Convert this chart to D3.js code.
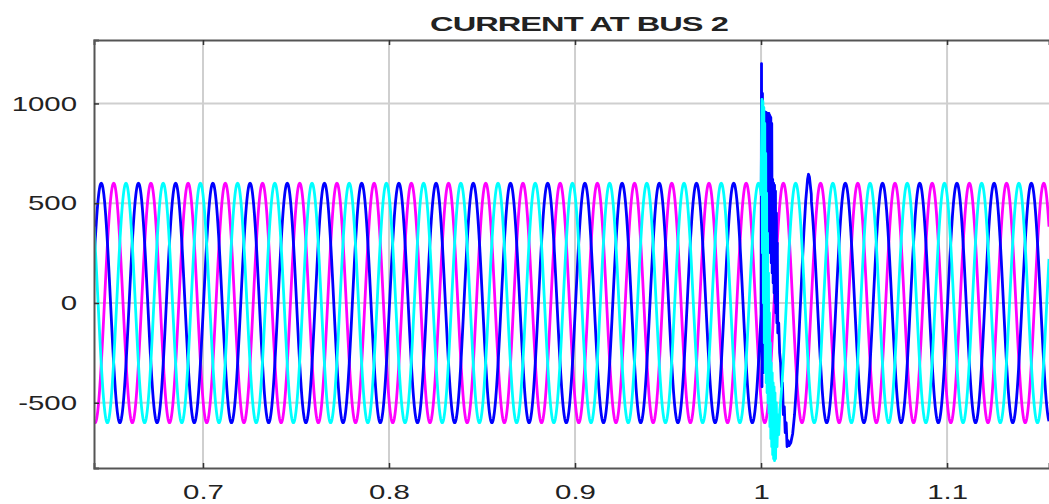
<html>
<head>
<meta charset="utf-8">
<title>Current at bus 2</title>
<style>
  body { margin: 0; background: #fff; }
  text { font-family: "Liberation Sans", Arial, sans-serif; fill: #222; }
</style>
</head>
<body>
<div id="chart"></div>
<script src="https://cdn.jsdelivr.net/npm/d3@7"></script>
<script>
// axis ticks
var xTicks = [0.7, 0.8, 0.9, 1.0, 1.1];
var yTicks = [-500, 0, 500, 1000];

// steady state of each phase
var phaseNames = ["A", "C", "B"];
var phaseColors = ["#ff00ff", "#0000ff", "#00ffff"];
var amplitude = [600, 600, 600];     // peak current
var freqHz = 50;
var firstPeak = [0.0120, 0.0053, 0.0186]; // time of a positive peak (mod one period)

// fault transient, [time, current]
var faultA = [];
var faultB = [
  [1.0000, 545], [1.0005, 1020], [1.00075, 250], [1.0010, 1010], [1.00125, 0],
  [1.0015, 980], [1.00175, -200], [1.0020, 900], [1.00225, -350], [1.0025, 750],
  [1.00275, -400], [1.0030, 550], [1.00325, -450], [1.0035, 350], [1.00375, -500],
  [1.0040, 150], [1.00425, -550], [1.0045, -50], [1.00475, -620], [1.0050, -200],
  [1.00525, -680], [1.0055, -300], [1.00575, -720], [1.0060, -350], [1.00625, -760],
  [1.0065, -400], [1.00675, -780], [1.0070, -420], [1.00725, -790], [1.0075, -450],
  [1.0078, -780], [1.0082, -500], [1.0086, -720], [1.0090, -560], [1.0095, -660],
  [1.0100, -560]
];
var faultC = [
  [1.0000, -80], [1.00025, 1200], [1.0005, -420], [1.00075, 1050], [1.0010, -350],
  [1.00125, 960], [1.0015, -250], [1.00175, 960], [1.0020, -100], [1.00225, 955],
  [1.0025, 50], [1.00275, 955], [1.0030, 150], [1.00325, 950], [1.0035, 250],
  [1.00375, 950], [1.0040, 300], [1.00425, 950], [1.0045, 280], [1.00475, 940],
  [1.0050, 250], [1.00525, 930], [1.0055, 200], [1.00575, 900], [1.0060, 150],
  [1.00625, 620], [1.0065, 100], [1.00675, 600], [1.0070, 50], [1.00725, 590],
  [1.0075, 0], [1.00775, 560], [1.0080, -50], [1.00825, 450], [1.0085, -100],
  [1.00875, 300], [1.0090, -150], [1.0095, -100], [1.0100, -250], [1.0105, -300],
  [1.0110, -420], [1.0115, -400], [1.0120, -560], [1.0125, -520], [1.0130, -650],
  [1.0135, -600], [1.0140, -720], [1.0145, -690], [1.0150, -715], [1.0160, -700],
  [1.0170, -655], [1.0180, -560], [1.0190, -420], [1.0200, -240], [1.0210, -40],
  [1.0220, 160], [1.0230, 350], [1.0240, 510], [1.0250, 620], [1.0255, 645],
  [1.0260, 632], [1.0270, 545]
];
var faults = [faultA, faultC, faultB];

var width = 1049, height = 504;
var plotLeft = 94, plotRight = 1049, plotTop = 40, plotBottom = 468;
var textStretch = 1.4;

var svg = d3.select("#chart").append("svg")
  .attr("width", width).attr("height", height);

var x = d3.scaleLinear().domain([0.6414, 1.1548]).range([plotLeft, plotRight]);
var y = d3.scaleLinear().domain([-827, 1318]).range([plotBottom, plotTop]);

svg.append("clipPath").attr("id", "plotclip")
  .append("rect")
  .attr("x", plotLeft).attr("y", plotTop)
  .attr("width", plotRight - plotLeft).attr("height", plotBottom - plotTop);

// grid
var grid = svg.append("g");
grid.selectAll(".vg").data(xTicks).enter().append("line")
  .attr("x1", d => x(d)).attr("x2", d => x(d))
  .attr("y1", plotTop).attr("y2", plotBottom)
  .attr("stroke", "#cfcfcf").attr("stroke-width", 2);
grid.selectAll(".hg").data(yTicks).enter().append("line")
  .attr("x1", plotLeft).attr("x2", plotRight)
  .attr("y1", d => y(d)).attr("y2", d => y(d))
  .attr("stroke", "#cfcfcf").attr("stroke-width", 2);

// build each phase: steady sine outside the fault window, picture points inside it
var t0 = x.domain()[0], t1 = x.domain()[1], dt = 0.0001;
function phaseSeries(i) {
  var f = faults[i];
  var fStart = f.length ? f[0][0] : Infinity;
  var fEnd = f.length ? f[f.length - 1][0] : -Infinity;
  var pts = [];
  for (var t = t0; t <= t1; t += dt) {
    if (t >= fStart && t <= fEnd) continue;
    if (t > fEnd && pts.length && pts[pts.length - 1][0] < fStart) {
      f.forEach(p => pts.push(p));
    }
    pts.push([t, amplitude[i] * Math.cos(2 * Math.PI * freqHz * (t - firstPeak[i]))]);
  }
  return pts;
}

var line = d3.line().x(d => x(d[0])).y(d => y(d[1]));
var plot = svg.append("g").attr("clip-path", "url(#plotclip)");
phaseNames.forEach(function (name, i) {
  plot.append("path")
    .datum(phaseSeries(i))
    .attr("fill", "none")
    .attr("stroke", phaseColors[i])
    .attr("stroke-width", 2.8)
    .attr("stroke-linejoin", "round")
    .attr("d", line);
});

// axes
var plainNum = d => String(+d.toFixed(2));
var xAxis = svg.append("g")
  .attr("transform", "translate(0," + plotBottom + ")")
  .call(d3.axisBottom(x).tickValues(xTicks).tickSize(-5).tickPadding(16)
    .tickFormat(plainNum));
var xTop = svg.append("g")
  .attr("transform", "translate(0," + plotTop + ")")
  .call(d3.axisTop(x).tickValues(xTicks).tickSize(-5).tickFormat(""));
var yAxis = svg.append("g")
  .attr("transform", "translate(" + plotLeft + ",0)")
  .call(d3.axisLeft(y).tickValues(yTicks).tickSize(-5).tickPadding(17)
    .tickFormat(plainNum));

[xAxis, xTop, yAxis].forEach(function (g) {
  g.select(".domain").attr("stroke", "#555").attr("stroke-width", 2);
  g.selectAll(".tick line").attr("stroke", "#333").attr("stroke-width", 1.5);
  g.selectAll(".tick text")
    .attr("font-size", 21)
    .attr("font-family", "Liberation Sans, Arial, sans-serif")
    .attr("fill", "#222");
});
xAxis.selectAll(".tick text").attr("transform", "scale(" + textStretch + ",1)");
yAxis.selectAll(".tick text")
  .attr("x", -17 / textStretch)
  .attr("transform", "scale(" + textStretch + ",1)");

// title
svg.append("text")
  .attr("transform", "translate(579,31) scale(1.55,1)")
  .attr("text-anchor", "middle")
  .attr("font-size", 21)
  .attr("font-weight", "bold")
  .attr("letter-spacing", -0.6)
  .text("CURRENT AT BUS 2");
</script>
</body>
</html>
